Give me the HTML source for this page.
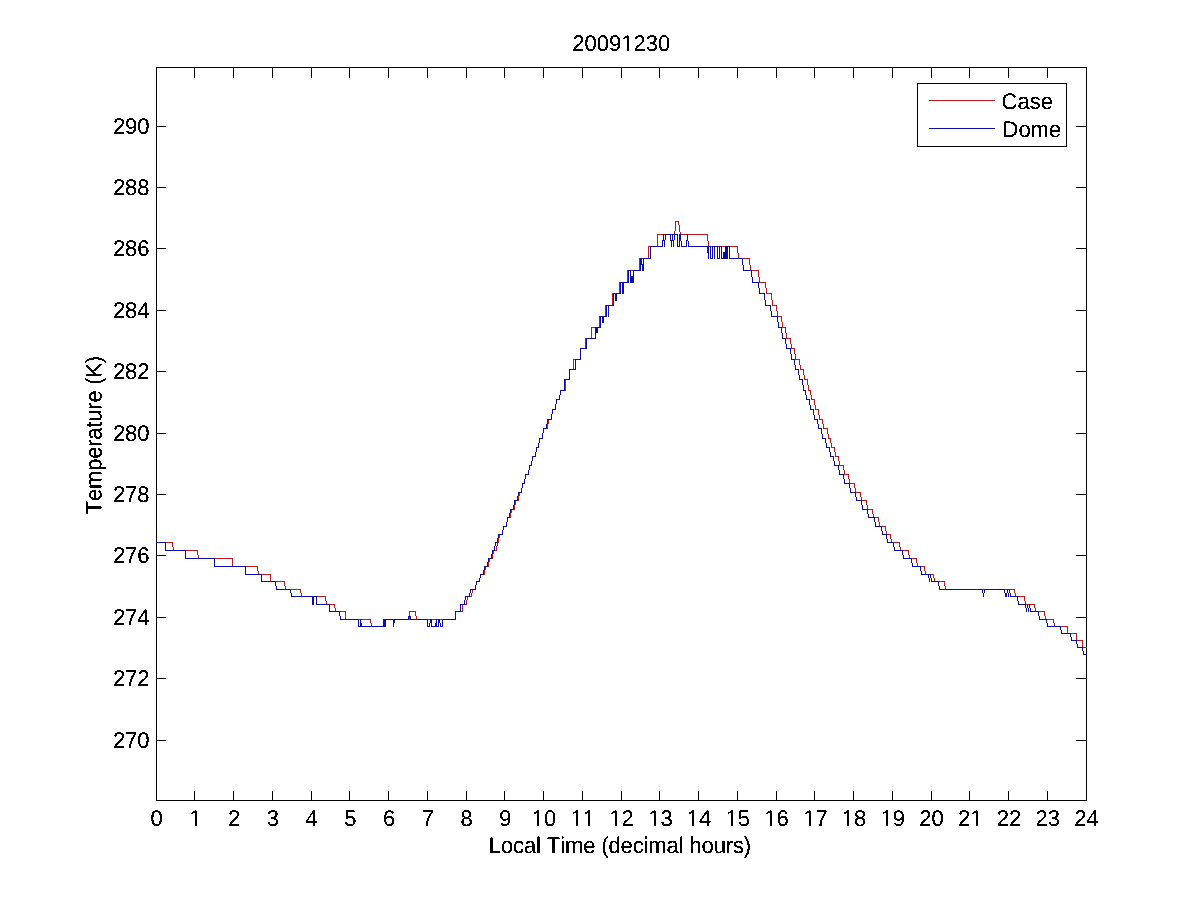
<!DOCTYPE html>
<html><head><meta charset="utf-8"><title>20091230</title>
<style>
html,body{margin:0;padding:0;background:#fff;}
body{width:1200px;height:900px;overflow:hidden;}
svg{display:block;}
text{font-family:"Liberation Sans",Arial,sans-serif;font-size:22px;fill:#000;font-kerning:none;text-rendering:geometricPrecision;}
</style></head><body>
<svg width="1200" height="900" viewBox="0 0 1200 900">
<defs><filter id="al" filterUnits="userSpaceOnUse" x="0" y="0" width="1200" height="900"><feComponentTransfer><feFuncA type="discrete" tableValues="0 0 1 1 1"/></feComponentTransfer></filter></defs>
<rect width="1200" height="900" fill="#fff"/>
<g stroke="#000" stroke-width="1" shape-rendering="crispEdges" fill="none">
<line x1="156.5" y1="67.5" x2="1086.5" y2="67.5"/>
<line x1="156.5" y1="800.5" x2="1086.5" y2="800.5"/>
<line x1="156.5" y1="67" x2="156.5" y2="801"/>
<line x1="1086.5" y1="67" x2="1086.5" y2="801"/>
<line x1="194.5" y1="791" x2="194.5" y2="800"/>
<line x1="194.5" y1="68" x2="194.5" y2="78"/>
<line x1="233.5" y1="791" x2="233.5" y2="800"/>
<line x1="233.5" y1="68" x2="233.5" y2="78"/>
<line x1="272.5" y1="791" x2="272.5" y2="800"/>
<line x1="272.5" y1="68" x2="272.5" y2="78"/>
<line x1="311.5" y1="791" x2="311.5" y2="800"/>
<line x1="311.5" y1="68" x2="311.5" y2="78"/>
<line x1="349.5" y1="791" x2="349.5" y2="800"/>
<line x1="349.5" y1="68" x2="349.5" y2="78"/>
<line x1="388.5" y1="791" x2="388.5" y2="800"/>
<line x1="388.5" y1="68" x2="388.5" y2="78"/>
<line x1="427.5" y1="791" x2="427.5" y2="800"/>
<line x1="427.5" y1="68" x2="427.5" y2="78"/>
<line x1="466.5" y1="791" x2="466.5" y2="800"/>
<line x1="466.5" y1="68" x2="466.5" y2="78"/>
<line x1="504.5" y1="791" x2="504.5" y2="800"/>
<line x1="504.5" y1="68" x2="504.5" y2="78"/>
<line x1="543.5" y1="791" x2="543.5" y2="800"/>
<line x1="543.5" y1="68" x2="543.5" y2="78"/>
<line x1="582.5" y1="791" x2="582.5" y2="800"/>
<line x1="582.5" y1="68" x2="582.5" y2="78"/>
<line x1="621.5" y1="791" x2="621.5" y2="800"/>
<line x1="621.5" y1="68" x2="621.5" y2="78"/>
<line x1="659.5" y1="791" x2="659.5" y2="800"/>
<line x1="659.5" y1="68" x2="659.5" y2="78"/>
<line x1="698.5" y1="791" x2="698.5" y2="800"/>
<line x1="698.5" y1="68" x2="698.5" y2="78"/>
<line x1="737.5" y1="791" x2="737.5" y2="800"/>
<line x1="737.5" y1="68" x2="737.5" y2="78"/>
<line x1="776.5" y1="791" x2="776.5" y2="800"/>
<line x1="776.5" y1="68" x2="776.5" y2="78"/>
<line x1="814.5" y1="791" x2="814.5" y2="800"/>
<line x1="814.5" y1="68" x2="814.5" y2="78"/>
<line x1="853.5" y1="791" x2="853.5" y2="800"/>
<line x1="853.5" y1="68" x2="853.5" y2="78"/>
<line x1="892.5" y1="791" x2="892.5" y2="800"/>
<line x1="892.5" y1="68" x2="892.5" y2="78"/>
<line x1="931.5" y1="791" x2="931.5" y2="800"/>
<line x1="931.5" y1="68" x2="931.5" y2="78"/>
<line x1="969.5" y1="791" x2="969.5" y2="800"/>
<line x1="969.5" y1="68" x2="969.5" y2="78"/>
<line x1="1008.5" y1="791" x2="1008.5" y2="800"/>
<line x1="1008.5" y1="68" x2="1008.5" y2="78"/>
<line x1="1047.5" y1="791" x2="1047.5" y2="800"/>
<line x1="1047.5" y1="68" x2="1047.5" y2="78"/>
<line x1="157" y1="126.5" x2="166" y2="126.5"/>
<line x1="1076" y1="126.5" x2="1086" y2="126.5"/>
<line x1="157" y1="187.5" x2="166" y2="187.5"/>
<line x1="1076" y1="187.5" x2="1086" y2="187.5"/>
<line x1="157" y1="248.5" x2="166" y2="248.5"/>
<line x1="1076" y1="248.5" x2="1086" y2="248.5"/>
<line x1="157" y1="310.5" x2="166" y2="310.5"/>
<line x1="1076" y1="310.5" x2="1086" y2="310.5"/>
<line x1="157" y1="371.5" x2="166" y2="371.5"/>
<line x1="1076" y1="371.5" x2="1086" y2="371.5"/>
<line x1="157" y1="433.5" x2="166" y2="433.5"/>
<line x1="1076" y1="433.5" x2="1086" y2="433.5"/>
<line x1="157" y1="494.5" x2="166" y2="494.5"/>
<line x1="1076" y1="494.5" x2="1086" y2="494.5"/>
<line x1="157" y1="555.5" x2="166" y2="555.5"/>
<line x1="1076" y1="555.5" x2="1086" y2="555.5"/>
<line x1="157" y1="617.5" x2="166" y2="617.5"/>
<line x1="1076" y1="617.5" x2="1086" y2="617.5"/>
<line x1="157" y1="678.5" x2="166" y2="678.5"/>
<line x1="1076" y1="678.5" x2="1086" y2="678.5"/>
<line x1="157" y1="740.5" x2="166" y2="740.5"/>
<line x1="1076" y1="740.5" x2="1086" y2="740.5"/>
</g>
<g fill="none" stroke-width="1" stroke-linejoin="miter" shape-rendering="crispEdges">
<path stroke="#be191e" d="M156.0 542.5H172.5L173.5 550.5H197.5L198.5 558.5H232.5V566.5H257.5L258.5 574.5H270.5V581.5H284.5L285.5 589.5H300.5L301.5 596.5H325.5L326.5 604.5H334.5L335.5 611.5H345.5V619.5H370.5L371.5 626.5H383.5V619.5H409.5V611.5H415.5L416.5 619.5H455.5V611.5H462.5V604.5H466.5L467.5 596.5H471.5L472.5 589.5H475.5L476.5 581.5H479.5L480.5 574.5H484.5L485.5 566.5H488.5L489.5 558.5H492.5L493.5 550.5H496.5L497.5 542.5H498.5L499.5 534.5H502.5L503.5 526.5H506.5L507.5 517.5H510.5L511.5 509.5H514.5L515.5 500.5H518.5L519.5 492.5H521.5L522.5 483.5H524.5L525.5 474.5H528.5L529.5 465.5H531.5L532.5 456.5H535.5L536.5 447.5H538.5L539.5 438.5H542.5L543.5 428.5H547.5L548.5 419.5H551.5L552.5 409.5H555.5L556.5 399.5H559.5L560.5 390.5H565.5V379.5H569.5V369.5H573.5V359.5H580.5V348.5H585.5V338.5H591.5V327.5H599.5V316.5H605.5V305.5H612.5V293.5H619.5V282.5H627.5V270.5H639.5V258.5H648.5V246.5H657.5V234.5H674.5L675.5 228.5H675.5V221.5H678.5L679.5 228.5H679.5L680.5 234.5H707.5L708.5 246.5H737.5L738.5 258.5H749.5L750.5 270.5H758.5L759.5 282.5H765.5L766.5 293.5H771.5L772.5 305.5H776.5L777.5 316.5H781.5L782.5 327.5H785.5L786.5 338.5H790.5L791.5 348.5H794.5L795.5 359.5H799.5L800.5 369.5H803.5L804.5 379.5H807.5L808.5 390.5H810.5L811.5 399.5H814.5L815.5 409.5H818.5L819.5 419.5H822.5L823.5 428.5H827.5L828.5 438.5H830.5L831.5 447.5H834.5L835.5 456.5H838.5L839.5 465.5H843.5L844.5 474.5H848.5L849.5 483.5H854.5L855.5 492.5H860.5L861.5 500.5H866.5L867.5 509.5H872.5L873.5 517.5H878.5L879.5 526.5H885.5L886.5 534.5H890.5L891.5 542.5H899.5L900.5 550.5H908.5L909.5 558.5H916.5L917.5 566.5H924.5L925.5 574.5H933.5L934.5 581.5H944.5L945.5 589.5H1014.5L1015.5 596.5H1024.5L1025.5 604.5H1034.5L1035.5 611.5H1044.5L1045.5 619.5H1053.5L1054.5 626.5H1067.5L1067.5 633.5H1076.5L1076.5 640.5H1082.5L1082.5 647.5H1086.5"/>
<path stroke="#0c0ca8" d="M156.0 542.5H165.5V550.5H185.5V558.5H214.5V566.5H245.5V574.5H261.5V581.5H275.5L276.5 589.5H290.5L291.5 596.5H312.5V604.5H313.5V600.5H313.5V596.5H316.5V604.5H329.5V611.5H339.5L340.5 619.5H358.5V626.5H360.5V619.5H360.5L361.5 626.5H383.5V619.5H384.5V626.5H385.5V619.5H393.5V626.5H393.5L394.5 619.5H408.5V616.5H410.5V619.5H427.5V626.5H429.5L430.5 619.5H431.5V626.5H435.5L436.5 619.5H436.5V626.5H438.5V619.5H439.5L440.5 626.5H442.5V619.5H455.5V611.5H460.5V604.5H464.5L465.5 596.5H469.5L470.5 589.5H475.5L476.5 581.5H479.5L480.5 574.5H483.5L484.5 566.5H487.5L488.5 558.5H491.5L492.5 550.5H494.5L495.5 542.5H497.5L498.5 534.5H502.5L503.5 526.5H506.5L507.5 517.5H509.5L510.5 509.5H513.5L514.5 500.5H517.5L518.5 492.5H521.5L522.5 483.5H524.5L525.5 474.5H528.5L529.5 465.5H531.5L532.5 456.5H535.5L536.5 447.5H538.5L539.5 438.5H542.5L543.5 428.5H546.5L547.5 419.5H551.5L552.5 409.5H555.5L556.5 399.5H559.5L560.5 390.5H564.5V379.5H569.5V369.5H575.5V359.5H580.5V348.5H586.5V338.5H595.5V327.5H596.5V332.5H597.5V327.5H600.5V316.5H602.5V322.5H603.5V316.5H606.5V305.5H608.5V316.5H608.5V305.5H613.5V293.5H614.5V293.5H615.5V300.5H616.5V293.5H620.5V282.5H622.5V293.5H623.5V282.5H628.5V270.5H630.5V282.5H631.5V276.5H632.5V282.5H633.5V270.5H640.5V258.5H641.5V264.5H642.5V270.5H643.5V258.5H650.5V246.5H662.5L663.5 234.5H663.5L664.5 246.5H664.5L665.5 234.5H670.5L671.5 246.5H671.5L672.5 234.5H672.5L673.5 246.5H673.5L674.5 234.5H677.5V246.5H679.5V234.5H680.5L681.5 246.5H686.5L687.5 234.5H687.5L688.5 246.5H707.5L708.5 258.5H708.5V246.5H710.5V258.5H712.5V246.5H714.5V258.5H714.5V246.5H717.5V258.5H719.5V246.5H721.5V258.5H723.5V252.5H724.5V258.5H725.5V246.5H726.5V258.5H727.5V246.5H729.5V258.5H742.5L743.5 270.5H751.5L752.5 282.5H758.5L759.5 293.5H764.5L765.5 305.5H770.5L771.5 316.5H777.5L778.5 327.5H781.5L782.5 338.5H785.5L786.5 348.5H790.5L791.5 359.5H794.5L795.5 369.5H798.5L799.5 379.5H802.5L803.5 390.5H805.5L806.5 399.5H809.5L810.5 409.5H813.5L814.5 419.5H817.5L818.5 428.5H821.5L822.5 438.5H825.5L826.5 447.5H829.5L830.5 456.5H833.5L834.5 465.5H838.5L839.5 474.5H843.5L844.5 483.5H849.5L850.5 492.5H855.5L856.5 500.5H861.5L862.5 509.5H867.5L868.5 517.5H874.5L875.5 526.5H881.5L882.5 534.5H886.5L887.5 542.5H893.5L894.5 550.5H902.5L903.5 558.5H911.5L912.5 566.5H920.5L921.5 574.5H928.5L929.5 581.5H929.5L930.5 574.5H930.5L931.5 581.5H938.5L939.5 589.5H982.5L983.5 596.5H983.5L984.5 589.5H1004.5L1005.5 596.5H1006.5L1007.5 589.5H1007.5L1008.5 596.5H1008.5L1009.5 589.5H1009.5L1010.5 596.5H1017.5L1018.5 604.5H1025.5L1026.5 611.5H1026.5L1027.5 604.5H1027.5L1028.5 611.5H1028.5L1029.5 604.5H1029.5L1030.5 611.5H1038.5L1039.5 619.5H1046.5L1047.5 626.5H1060.5L1061.5 633.5H1070.5L1071.5 640.5H1076.5L1077.5 647.5H1082.5L1083.5 654.5H1086.5"/>
</g>
<rect x="917.5" y="83.5" width="149" height="63" fill="#fff" stroke="#000" stroke-width="1" shape-rendering="crispEdges"/>
<line x1="929" y1="100.5" x2="995" y2="100.5" stroke="#be191e" stroke-width="1"/>
<line x1="929" y1="128.5" x2="995" y2="128.5" stroke="#0c0ca8" stroke-width="1"/>
<g filter="url(#al)">
<text transform="matrix(1 0 0 1.03 156.50 826.00)" text-anchor="middle">0</text>
<text transform="matrix(1 0 0 1.03 195.25 826.00)" text-anchor="middle">1</text>
<text transform="matrix(1 0 0 1.03 234.00 826.00)" text-anchor="middle">2</text>
<text transform="matrix(1 0 0 1.03 272.75 826.00)" text-anchor="middle">3</text>
<text transform="matrix(1 0 0 1.03 311.50 826.00)" text-anchor="middle">4</text>
<text transform="matrix(1 0 0 1.03 350.25 826.00)" text-anchor="middle">5</text>
<text transform="matrix(1 0 0 1.03 389.00 826.00)" text-anchor="middle">6</text>
<text transform="matrix(1 0 0 1.03 427.75 826.00)" text-anchor="middle">7</text>
<text transform="matrix(1 0 0 1.03 466.50 826.00)" text-anchor="middle">8</text>
<text transform="matrix(1 0 0 1.03 505.25 826.00)" text-anchor="middle">9</text>
<text transform="matrix(1 0 0 1.03 544.00 826.00)" text-anchor="middle">10</text>
<text transform="matrix(1 0 0 1.03 582.75 826.00)" text-anchor="middle">11</text>
<text transform="matrix(1 0 0 1.03 621.50 826.00)" text-anchor="middle">12</text>
<text transform="matrix(1 0 0 1.03 660.55 826.00)" text-anchor="middle">13</text>
<text transform="matrix(1 0 0 1.03 699.00 826.00)" text-anchor="middle">14</text>
<text transform="matrix(1 0 0 1.03 737.75 826.00)" text-anchor="middle">15</text>
<text transform="matrix(1 0 0 1.03 776.50 826.00)" text-anchor="middle">16</text>
<text transform="matrix(1 0 0 1.03 815.55 826.00)" text-anchor="middle">17</text>
<text transform="matrix(1 0 0 1.03 854.00 826.00)" text-anchor="middle">18</text>
<text transform="matrix(1 0 0 1.03 892.75 826.00)" text-anchor="middle">19</text>
<text transform="matrix(1 0 0 1.03 931.50 826.00)" text-anchor="middle">20</text>
<text transform="matrix(1 0 0 1.03 970.25 826.00)" text-anchor="middle">21</text>
<text transform="matrix(1 0 0 1.03 1009.00 826.00)" text-anchor="middle">22</text>
<text transform="matrix(1 0 0 1.03 1047.75 826.00)" text-anchor="middle">23</text>
<text transform="matrix(1 0 0 1.03 1086.50 826.00)" text-anchor="middle">24</text>
<text transform="matrix(1 0 0 1.03 149.60 133.60)" text-anchor="end" font-size="21.6">290</text>
<text transform="matrix(1 0 0 1.03 149.60 194.60)" text-anchor="end" font-size="21.6">288</text>
<text transform="matrix(1 0 0 1.03 149.60 255.60)" text-anchor="end" font-size="21.6">286</text>
<text transform="matrix(1 0 0 1.03 149.60 317.60)" text-anchor="end" font-size="21.6">284</text>
<text transform="matrix(1 0 0 1.03 149.60 378.60)" text-anchor="end" font-size="21.6">282</text>
<text transform="matrix(1 0 0 1.03 149.60 440.60)" text-anchor="end" font-size="21.6">280</text>
<text transform="matrix(1 0 0 1.03 149.60 501.60)" text-anchor="end" font-size="21.6">278</text>
<text transform="matrix(1 0 0 1.03 149.60 562.60)" text-anchor="end" font-size="21.6">276</text>
<text transform="matrix(1 0 0 1.03 149.60 624.60)" text-anchor="end" font-size="21.6">274</text>
<text transform="matrix(1 0 0 1.03 149.60 685.60)" text-anchor="end" font-size="21.6">272</text>
<text transform="matrix(1 0 0 1.03 149.60 747.60)" text-anchor="end" font-size="21.6">270</text>
<text transform="matrix(1 0 0 1.03 621.30 51.00)" text-anchor="middle">20091230</text>
<text transform="matrix(1 0 0 1.03 620.00 852.50)" text-anchor="middle" textLength="262.3" lengthAdjust="spacing">Local Time (decimal hours)</text>
<text transform="translate(101,435) rotate(-90) scale(1,1.03)" text-anchor="middle" textLength="158.4" lengthAdjust="spacing">Temperature (K)</text>
<text transform="matrix(1 0 0 1.03 1001.60 109.30)">Case</text>
<text transform="matrix(1 0 0 1.03 1002.50 136.60)">Dome</text>
</g>
<g fill="#fff"><rect x="190" y="824" width="5" height="2"/><rect x="197" y="824" width="4" height="2"/><rect x="532" y="824" width="5" height="2"/><rect x="539" y="824" width="5" height="2"/><rect x="571" y="824" width="5" height="2"/><rect x="578" y="824" width="5" height="2"/><rect x="583" y="824" width="5" height="2"/><rect x="590" y="824" width="5" height="2"/><rect x="610" y="824" width="5" height="2"/><rect x="617" y="824" width="4" height="2"/><rect x="649" y="824" width="5" height="2"/><rect x="656" y="824" width="4" height="2"/><rect x="687" y="824" width="5" height="2"/><rect x="694" y="824" width="5" height="2"/><rect x="726" y="824" width="5" height="2"/><rect x="733" y="824" width="5" height="2"/><rect x="765" y="824" width="5" height="2"/><rect x="772" y="824" width="4" height="2"/><rect x="804" y="824" width="5" height="2"/><rect x="811" y="824" width="4" height="2"/><rect x="842" y="824" width="5" height="2"/><rect x="849" y="824" width="5" height="2"/><rect x="881" y="824" width="5" height="2"/><rect x="888" y="824" width="5" height="2"/><rect x="971" y="824" width="5" height="2"/><rect x="978" y="824" width="4" height="2"/><rect x="622" y="49" width="5" height="2"/><rect x="629" y="49" width="4" height="2"/></g>
</svg>
</body></html>
